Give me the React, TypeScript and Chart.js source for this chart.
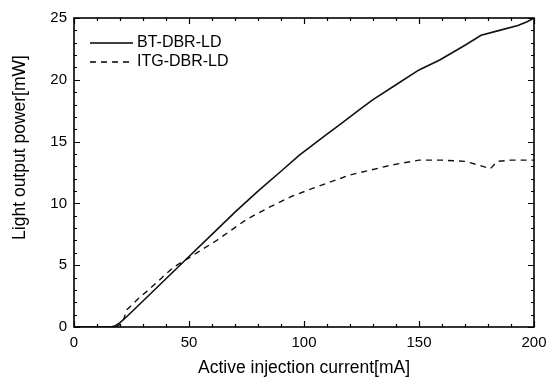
import React, { useEffect, useRef } from "react";
import { Chart, registerables } from "chart.js";

Chart.register(...registerables);

const currentBT = [0, 16, 18, 20, 23, 30, 40, 50, 60, 70, 80, 90, 98, 105, 110, 115, 120, 125, 130, 140, 150, 159, 170, 177, 185, 193, 197, 200];
const powerBT = [0, 0, 0.1, 0.35, 0.85, 2.1, 3.9, 5.7, 7.5, 9.3, 11.0, 12.6, 13.9, 14.9, 15.6, 16.3, 17.0, 17.7, 18.4, 19.6, 20.8, 21.6, 22.8, 23.6, 24.0, 24.4, 24.7, 25.0];

const currentITG = [18, 21, 23, 28, 33, 38, 43, 50, 62, 75, 85, 95, 105, 120, 138, 150, 160, 170, 176, 181, 184, 190, 200];
const powerITG = [0, 0.3, 1.4, 2.3, 3.1, 3.95, 4.8, 5.6, 7.0, 8.7, 9.7, 10.6, 11.3, 12.3, 13.1, 13.5, 13.5, 13.4, 13.1, 12.8, 13.4, 13.5, 13.5];

const seriesLabels = ["BT-DBR-LD", "ITG-DBR-LD"];
const xTitle = "Active injection current[mA]";
const yTitle = "Light output power[mW]";

const FONT = '"Liberation Sans", Arial, sans-serif';

const framePlugin = {
  id: "frameTicksLegend",
  afterDraw(chart: any) {
    const { ctx, chartArea, scales } = chart;
    const { left, right, top, bottom } = chartArea;
    const xs = scales.x;
    const ys = scales.y;
    ctx.save();
    ctx.strokeStyle = "#000";
    // ticks
    ctx.lineWidth = 1.2;
    for (let v = 0; v <= 200; v += 10) {
      const px = Math.round(xs.getPixelForValue(v)) + 0.5;
      const len = v % 50 === 0 ? 6 : 3;
      ctx.beginPath();
      ctx.moveTo(px, bottom);
      ctx.lineTo(px, bottom - len);
      ctx.moveTo(px, top);
      ctx.lineTo(px, top + len);
      ctx.stroke();
    }
    for (let v = 0; v <= 25; v += 1) {
      const py = Math.round(ys.getPixelForValue(v)) + 0.5;
      const len = v % 5 === 0 ? 6 : 3;
      ctx.beginPath();
      ctx.moveTo(left, py);
      ctx.lineTo(left + len, py);
      ctx.moveTo(right, py);
      ctx.lineTo(right - len, py);
      ctx.stroke();
    }
    // frame
    ctx.lineWidth = 1.6;
    ctx.strokeRect(left, top, right - left, bottom - top);

    // legend
    ctx.font = `16px ${FONT}`;
    ctx.fillStyle = "#000";
    ctx.textBaseline = "middle";
    ctx.textAlign = "left";
    chart.data.datasets.forEach((ds: any, i: number) => {
      const ly = top + 25 + i * 19;
      ctx.save();
      ctx.lineWidth = ds.borderWidth;
      ctx.setLineDash(ds.borderDash || []);
      ctx.beginPath();
      ctx.moveTo(left + 16, ly);
      ctx.lineTo(left + 59, ly);
      ctx.stroke();
      ctx.restore();
      ctx.fillText(ds.label, left + 63, ly);
    });

    // axis titles
    ctx.font = `17.5px ${FONT}`;
    ctx.textAlign = "center";
    ctx.textBaseline = "middle";
    ctx.fillText(xTitle, (left + right) / 2, bottom + 41);
    ctx.save();
    ctx.translate(20, (top + bottom) / 2 - 25);
    ctx.rotate(-Math.PI / 2);
    ctx.fillText(yTitle, 0, 0);
    ctx.restore();
    ctx.restore();
  },
};

export default function App() {
  const ref = useRef<HTMLCanvasElement | null>(null);
  useEffect(() => {
    document.body.style.margin = "0";
    const canvas = ref.current!;
    const chart = new Chart(canvas, {
      type: "line",
      data: {
        datasets: [
          {
            label: seriesLabels[0],
            data: currentBT.map((c, i) => ({ x: c, y: powerBT[i] })),
            borderColor: "#111",
            borderWidth: 1.6,
            pointRadius: 0,
            tension: 0,
            fill: false,
          },
          {
            label: seriesLabels[1],
            data: currentITG.map((c, i) => ({ x: c, y: powerITG[i] })),
            borderColor: "#111",
            borderWidth: 1.4,
            borderDash: [6, 5],
            pointRadius: 0,
            tension: 0,
            fill: false,
          },
        ],
      },
      options: {
        responsive: false,
        animation: false,
        devicePixelRatio: 1,
        layout: { padding: { left: 0, top: 18, right: 17, bottom: 0 } },
        plugins: { legend: { display: false }, tooltip: { enabled: false } },
        scales: {
          x: {
            type: "linear",
            min: 0,
            max: 200,
            grid: { display: false, drawTicks: false },
            border: { display: false },
            ticks: { stepSize: 50, padding: 7, color: "#000", font: { family: FONT, size: 15 } },
            afterFit: (s: any) => {
              s.height = 54;
              s.paddingLeft = 0;
              s.paddingRight = 0;
            },
          },
          y: {
            type: "linear",
            min: 0,
            max: 25,
            grid: { display: false, drawTicks: false },
            border: { display: false },
            ticks: { stepSize: 5, padding: 7, color: "#000", font: { family: FONT, size: 15 } },
            afterFit: (s: any) => {
              s.width = 74;
              s.paddingTop = 0;
              s.paddingBottom = 0;
            },
          },
        },
      },
      plugins: [framePlugin],
    });
    return () => chart.destroy();
  }, []);
  return (
    <div style={{ position: "fixed", left: 0, top: 0, width: 551, height: 381, background: "#fff" }}>
      <canvas ref={ref} width={551} height={381} />
    </div>
  );
}
